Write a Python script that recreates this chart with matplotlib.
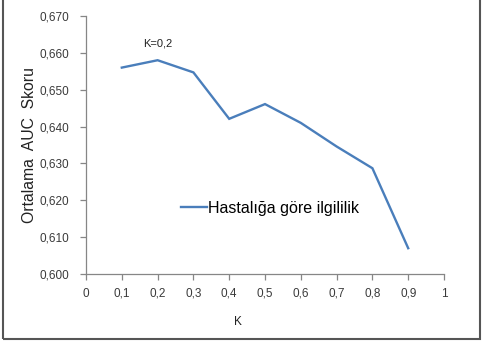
import matplotlib
matplotlib.use("Agg")
import matplotlib.pyplot as plt
from matplotlib.patches import Rectangle
from matplotlib.ticker import FuncFormatter

k_values = [0.1, 0.2, 0.3, 0.4, 0.5, 0.6, 0.7, 0.8, 0.9]
auc_scores = [0.656, 0.658, 0.6547, 0.6421, 0.6461, 0.641, 0.6346, 0.6287, 0.607]
series_label = "Hastalığa göre ilgililik"
x_ticks = [0, 0.1, 0.2, 0.3, 0.4, 0.5, 0.6, 0.7, 0.8, 0.9, 1]
y_ticks = [0.600, 0.610, 0.620, 0.630, 0.640, 0.650, 0.660, 0.670]

W, H = 487, 343
fig = plt.figure(figsize=(W / 100, H / 100), dpi=100)
fig.patch.set_facecolor("white")
ax = fig.add_axes([86 / W, 1 - 274 / H, (444 - 86) / W, (274 - 16) / H])

line_color = "#4A7EBB"
ax.plot(k_values, auc_scores, color=line_color, lw=1.7, label=series_label,
        solid_joinstyle="miter")

ax.set_xlim(0, 1)
ax.set_ylim(0.600, 0.670)
ax.set_xticks(x_ticks)
ax.set_yticks(y_ticks)

def fmt_x(v, pos):
    if abs(v) < 1e-9:
        return "0"
    if abs(v - 1) < 1e-9:
        return "1"
    return f"{v:.1f}".replace(".", ",")

def fmt_y(v, pos):
    return f"{v:.3f}".replace(".", ",")

ax.xaxis.set_major_formatter(FuncFormatter(fmt_x))
ax.yaxis.set_major_formatter(FuncFormatter(fmt_y))

axis_gray = "#868686"
for side in ["top", "right"]:
    ax.spines[side].set_visible(False)
for side in ["left", "bottom"]:
    ax.spines[side].set_color(axis_gray)
    ax.spines[side].set_linewidth(0.9)
ax.tick_params(axis="both", colors=axis_gray, direction="out", length=4, width=0.9,
               labelcolor="#3a3a3a", labelsize=8.5)
ax.tick_params(axis="x", pad=6)
ax.tick_params(axis="y", pad=8)
for lbl in ax.get_xticklabels() + ax.get_yticklabels():
    lbl.set_family("Liberation Sans")

fig.text(30 / W, 1 - 145 / H, "Ortalama  AUC  Skoru", rotation=90, ha="center",
         va="center", fontsize=11.3, family="Liberation Sans", color="#222222")
fig.text(238 / W, 1 - 322 / H, "K", ha="center", va="center", fontsize=8.5,
         family="Liberation Sans", color="#222222")

ax.annotate("K=0,2", xy=(158 / W, 1 - 43 / H), xycoords="figure fraction",
            ha="center", va="center", fontsize=8, family="Liberation Sans",
            color="#222222")

leg = ax.legend(loc="center left", bbox_to_anchor=(181 / W, 1 - 208 / H),
                bbox_transform=fig.transFigure, frameon=False, handlelength=1.6,
                handletextpad=0.1, borderpad=0, borderaxespad=0,
                prop={"family": "Liberation Sans", "size": 11.5})

fig.patches.append(Rectangle((3 / W, 1 - 339 / H), (480 - 3) / W, 342 / H,
                             transform=fig.transFigure, fill=False,
                             edgecolor="#555555", lw=1.5, zorder=10))

fig.savefig("out.png", dpi=100, facecolor="white")
